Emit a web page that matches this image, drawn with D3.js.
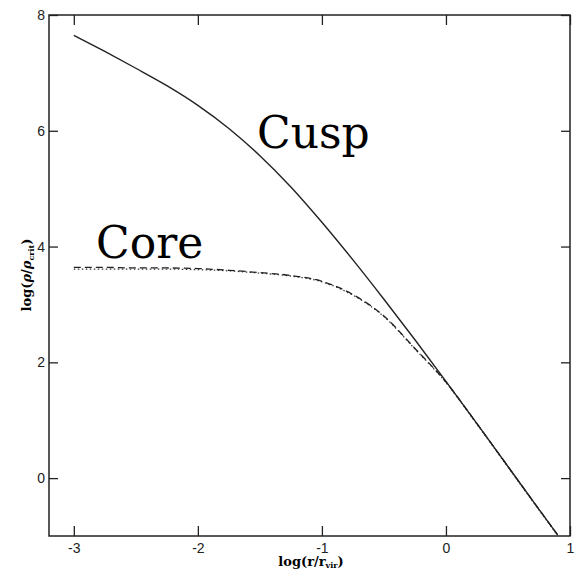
<!DOCTYPE html>
<html>
  <head>
    <meta charset="utf-8">
    <script src="https://d3js.org/d3.v7.min.js"></script>
    <style>
      body { margin: 0; background: #fff; }
      .tick text { font-family: "Liberation Sans", Arial, sans-serif; font-size: 14px; fill: #222; }
      .tick line { stroke: #222; stroke-width: 1.3px; }
    </style>
  </head>
<body>
<script type="text/javascript">
  // log(r/r_vir) sample positions
  var logR = [-3, -2.75, -2.5, -2.25, -2, -1.75, -1.5, -1.25, -1, -0.75, -0.5, -0.25, 0, 0.25, 0.5, 0.75, 0.9];
  // cuspy profile (solid)
  var cusp = [7.65, 7.37, 7.08, 6.78, 6.44, 6.04, 5.57, 5.03, 4.42, 3.77, 3.09, 2.39, 1.67, 0.94, 0.20, -0.54, -0.98];
  // cored profiles (dashed and dotted)
  var core = [3.64, 3.64, 3.63, 3.63, 3.62, 3.59, 3.55, 3.50, 3.40, 3.17, 2.80, 2.24, 1.66, 0.94, 0.20, -0.54, -0.98];
  var core2 = [3.61, 3.61, 3.61, 3.61, 3.60, 3.58, 3.54, 3.49, 3.39, 3.16, 2.79, 2.23, 1.65, 0.93, 0.19, -0.55, -0.99];

  var xTicks = [-3, -2, -1, 0, 1];
  var yTicks = [0, 2, 4, 6, 8];

  "use strict";
  var width = 577,
      height = 570;

  var svg = d3.select("body")
      .append("svg")
        .attr("width", width)
        .attr("height", height);

  var x = d3.scaleLinear().domain([-3.2, 1]).range([49, 570]);
  var y = d3.scaleLinear().domain([-1, 8]).range([536, 15]);

  var xMinor = d3.range(-3.2, 1.001, 0.2).map(function (d) { return +d.toFixed(1); });
  var yMinor = d3.range(-1, 8.001, 0.5);
  var plain = function (d) { return String(d); };   // hyphen minus, like the original

  // bottom axis
  var gb = svg.append("g").attr("transform", "translate(0," + y(-1) + ")");
  gb.call(d3.axisBottom(x).tickValues(xMinor).tickSizeInner(-5).tickSizeOuter(0).tickFormat(""));
  gb.call(d3.axisBottom(x).tickValues(xTicks).tickSizeInner(-10).tickSizeOuter(0).tickPadding(7).tickFormat(plain));
  // top axis
  var gt = svg.append("g").attr("transform", "translate(0," + y(8) + ")");
  gt.call(d3.axisTop(x).tickValues(xMinor).tickSizeInner(-5).tickSizeOuter(0).tickFormat(""));
  gt.call(d3.axisTop(x).tickValues(xTicks).tickSizeInner(-10).tickSizeOuter(0).tickFormat(""));
  // left axis
  var gl = svg.append("g").attr("transform", "translate(" + x(-3.2) + ",0)");
  gl.call(d3.axisLeft(y).tickValues(yMinor).tickSizeInner(-5).tickSizeOuter(0).tickFormat(""));
  gl.call(d3.axisLeft(y).tickValues(yTicks).tickSizeInner(-9).tickSizeOuter(0).tickPadding(4).tickFormat(plain));
  // right axis
  var gr = svg.append("g").attr("transform", "translate(" + x(1) + ",0)");
  gr.call(d3.axisRight(y).tickValues(yMinor).tickSizeInner(-5).tickSizeOuter(0).tickFormat(""));
  gr.call(d3.axisRight(y).tickValues(yTicks).tickSizeInner(-9).tickSizeOuter(0).tickFormat(""));

  svg.selectAll(".domain").remove();

  svg.append("rect")
      .attr("x", x(-3.2))
      .attr("y", y(8))
      .attr("width", x(1) - x(-3.2))
      .attr("height", y(-1) - y(8))
      .attr("fill", "none")
      .attr("stroke", "#222")
      .attr("stroke-width", 1.5);

  var line = d3.line()
      .x(function (d) { return x(d[0]); })
      .y(function (d) { return y(d[1]); })
      .curve(d3.curveMonotoneX);

  function pts(vals) { return logR.map(function (r, i) { return [r, vals[i]]; }); }

  svg.append("path").datum(pts(core2))
      .attr("d", line).attr("fill", "none")
      .attr("stroke", "#333").attr("stroke-width", 1.2)
      .attr("stroke-dasharray", "1.5,2.5");
  svg.append("path").datum(pts(core))
      .attr("d", line).attr("fill", "none")
      .attr("stroke", "#222").attr("stroke-width", 1.3)
      .attr("stroke-dasharray", "7,4");
  svg.append("path").datum(pts(cusp))
      .attr("d", line).attr("fill", "none")
      .attr("stroke", "#222").attr("stroke-width", 1.4);

  // curve labels
  svg.append("text")
      .attr("x", 257).attr("y", 148)
      .style("font-family", "'DejaVu Serif', serif")
      .style("font-size", "44px")
      .text("Cusp");
  svg.append("text")
      .attr("x", 96).attr("y", 258)
      .style("font-family", "'DejaVu Serif', serif")
      .style("font-size", "44px")
      .text("Core");

  // axis titles
  var xt = svg.append("text")
      .attr("x", 311).attr("y", 566)
      .attr("text-anchor", "middle")
      .style("font-family", "'DejaVu Serif', serif")
      .style("font-weight", "bold")
      .style("font-size", "13px");
  xt.append("tspan").text("log(r/r");
  xt.append("tspan").attr("dy", 2).style("font-size", "8px").text("vir");
  xt.append("tspan").attr("dy", -2).text(")");

  var yt = svg.append("text")
      .attr("transform", "translate(31,275) rotate(-90)")
      .attr("text-anchor", "middle")
      .style("font-family", "'DejaVu Serif', serif")
      .style("font-weight", "bold")
      .style("font-size", "13px");
  yt.append("tspan").text("log(");
  yt.append("tspan").style("font-style", "italic").text("ρ");
  yt.append("tspan").text("/");
  yt.append("tspan").style("font-style", "italic").text("ρ");
  yt.append("tspan").attr("dy", 3).style("font-size", "8px").text("crit");
  yt.append("tspan").attr("dy", -3).text(")");
</script>
</body>
</html>
